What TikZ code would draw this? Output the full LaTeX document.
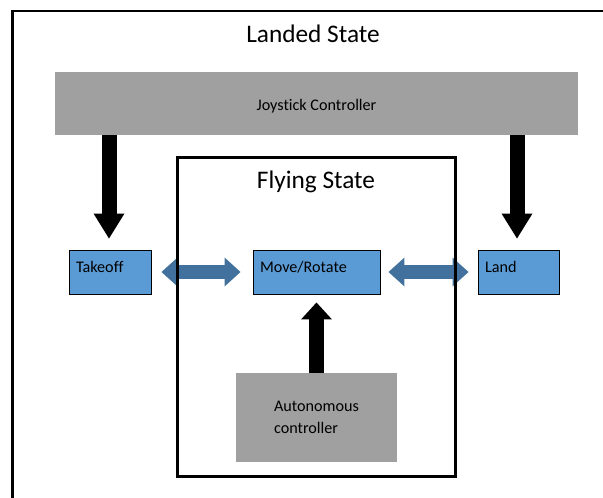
\documentclass[tikz,border=0pt]{standalone}
\usepackage{fontspec}
\setmainfont{Carlito}[Ligatures=NoCommon]
\usetikzlibrary{arrows.meta, positioning}
\definecolor{boxblue}{RGB}{91,155,213}
\definecolor{linkblue}{RGB}{65,113,156}
\definecolor{ctrlgray}{RGB}{160,160,160}

\begin{document}
\begin{tikzpicture}[
  font=\fontsize{11.5}{15.9}\selectfont,
  title/.style={font=\fontsize{18}{22}\selectfont, anchor=base, inner sep=0pt},
  ctrl/.style={fill=ctrlgray, inner sep=0pt, align=left},
  state/.style={draw, fill=boxblue, line width=0.7pt, minimum height=1.1cm,
    text height=9pt, text depth=9pt, align=left, inner xsep=0.175cm, inner ysep=0pt},
  cmd/.style={line width=0.375cm, -{Triangle[width=0.775cm, length=0.625cm, line width=0pt]}},
  autocmd/.style={line width=0.375cm, -{Triangle[width=0.775cm, length=0.425cm, line width=0pt]}},
  twoway/.style={linkblue, line width=0.35cm,
    {Triangle[width=0.725cm, length=0.4cm, line width=0pt]}-{Triangle[width=0.725cm, length=0.4cm, line width=0pt]}},
]
  \useasboundingbox (0,0) rectangle (15.075,-12.45);

  % --- Landed state (outer frame, open to the right and bottom) ---
  \draw[line width=2.1pt] (15.075,-0.275) -- (0.3125,-0.275) -- (0.3125,-12.45);
  \node[title] (landed) at (7.825,-1.0575) {Landed State};

  % Joystick controller bar
  \node[ctrl, minimum width=13.075cm, minimum height=1.575cm, text height=10pt, text depth=0pt] (joystick) at (7.9125,-2.5875) {Joystick Controller};

  % States
  \node[state, text width=1.7cm] (takeoff) at (2.75,-6.8) {Takeoff};
  \node[state, text width=2.825cm] (move) at (7.9125,-6.8) {Move/Rotate};
  \node[state, text width=1.675cm] (land) at (12.9625,-6.8) {Land};

  % Autonomous controller
  \node[ctrl, minimum width=4.025cm, minimum height=2.225cm] (auto) at (7.9125,-10.4375) {Autonomous\\controller};

  % Commands from the controllers
  \draw[cmd, shorten >=0.275cm] (joystick.south -| 2.725,0) -- (2.725,0 |- takeoff.north);
  \draw[cmd, shorten >=0.275cm] (joystick.south -| 12.925,0) -- (12.925,0 |- land.north);
  \draw[autocmd, shorten >=0.2cm] (auto.north) -- (move.south);

  % Transitions between states
  \draw[twoway, shorten <=0.25cm, shorten >=0.3cm] (takeoff.east) -- (move.west);
  \draw[twoway, shorten <=0.2cm, shorten >=0.225cm] (move.east) -- (land.west);

  % --- Flying state ---
  \node[draw, line width=2.2pt, minimum width=6.95cm, minimum height=7.975cm] (flying) at (7.9125,-7.925) {};
  \node[title] (flyingtitle) at (7.9,-4.7075) {Flying State};
\end{tikzpicture}
\end{document}
